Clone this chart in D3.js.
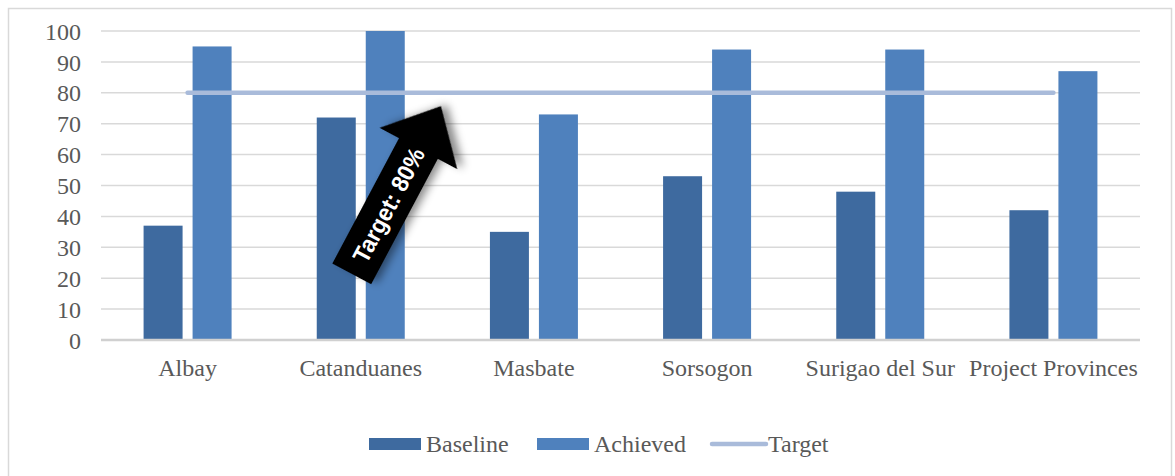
<!DOCTYPE html>
<html>
<head>
<meta charset="utf-8">
<script src="https://cdn.jsdelivr.net/npm/d3@7"></script>
<style>
  html, body { margin: 0; padding: 0; background: #fff; }
  svg { display: block; }
</style>
</head>
<body>
<svg id="chart" width="1175" height="476"></svg>
<script>
// Provincial coverage: baseline vs achieved, against an 80% target
const categories = ["Albay", "Catanduanes", "Masbate", "Sorsogon", "Surigao del Sur", "Project Provinces"];
const baseline = [37, 72, 35, 53, 48, 42];
const achieved = [95, 100, 73, 94, 94, 87];
const target = [80, 80, 80, 80, 80, 80];
const yTicks = [0, 10, 20, 30, 40, 50, 60, 70, 80, 90, 100];
const seriesNames = ["Baseline", "Achieved", "Target"];
const annotationText = "Target: 80%";

const colors = { Baseline: "#3e6a9f", Achieved: "#4f81bd", Target: "#a9bbda" };
const font = "'Liberation Serif', 'Times New Roman', serif";
const textColor = "#595959";
const fontSize = 24;

const svg = d3.select("#chart");

// outer chart frame
svg.append("rect")
  .attr("x", 8.5).attr("y", 8.5)
  .attr("width", 1163).attr("height", 490)
  .attr("fill", "none").attr("stroke", "#d9d9d9").attr("stroke-width", 1.5);

const plot = { left: 101, right: 1140, top: 31, bottom: 340 };

const x = d3.scaleBand().domain(categories).range([plot.left, plot.right]).padding(0);
const y = d3.scaleLinear().domain([0, 100]).range([plot.bottom, plot.top]);

const barW = 39, innerGap = 10;

// gridlines
svg.append("g").selectAll("line")
  .data(yTicks.filter(d => d > 0))
  .join("line")
  .attr("x1", plot.left).attr("x2", plot.right)
  .attr("y1", d => y(d)).attr("y2", d => y(d))
  .attr("stroke", "#d9d9d9").attr("stroke-width", 1.5);

// y axis labels
const yAxis = d3.axisLeft(y).tickValues(yTicks).tickSize(0).tickPadding(0);
const yg = svg.append("g").attr("transform", `translate(81,0)`).call(yAxis);
yg.select(".domain").remove();
yg.attr("font-family", font).attr("font-size", fontSize);
yg.selectAll("text")
  .attr("font-family", font).attr("font-size", fontSize).attr("fill", textColor)
  .attr("dy", "0.34em");

// bars
const rows = categories.map((c, i) => ({ c, b: baseline[i], a: achieved[i], t: target[i] }));
const groups = svg.append("g").selectAll("g").data(rows).join("g")
  .attr("transform", d => `translate(${x(d.c) + x.bandwidth() / 2},0)`);

groups.append("rect")
  .attr("x", -innerGap / 2 - barW).attr("width", barW)
  .attr("y", d => y(d.b)).attr("height", d => y(0) - y(d.b))
  .attr("fill", colors.Baseline);

groups.append("rect")
  .attr("x", innerGap / 2).attr("width", barW)
  .attr("y", d => y(d.a)).attr("height", d => y(0) - y(d.a))
  .attr("fill", colors.Achieved);

// x axis baseline and category labels
svg.append("line")
  .attr("x1", plot.left).attr("x2", plot.right)
  .attr("y1", y(0)).attr("y2", y(0))
  .attr("stroke", "#d0d0d0").attr("stroke-width", 2.5);

const xAxis = d3.axisBottom(x).tickSize(0).tickPadding(0);
const xg = svg.append("g").attr("transform", `translate(0,${y(0) + 36})`).call(xAxis);
xg.select(".domain").remove();
xg.attr("font-family", font).attr("font-size", fontSize);
xg.selectAll("text")
  .attr("font-family", font).attr("font-size", fontSize).attr("fill", textColor)
  .attr("dy", "0");

// target line
const line = d3.line()
  .x(d => x(d.c) + x.bandwidth() / 2)
  .y(d => y(d.t));
svg.append("path")
  .datum(rows)
  .attr("d", line)
  .attr("fill", "none")
  .attr("stroke", colors.Target)
  .attr("stroke-width", 4.5)
  .attr("stroke-linecap", "round");

// arrow annotation pointing up at the target line
const defs = svg.append("defs");
const shadow = defs.append("filter").attr("id", "arrowShadow")
  .attr("x", "-30%").attr("y", "-30%").attr("width", "160%").attr("height", "160%");
shadow.append("feDropShadow")
  .attr("dx", 4).attr("dy", 5).attr("stdDeviation", 4)
  .attr("flood-color", "#000").attr("flood-opacity", 0.45);

const arrowAnchorX = x("Catanduanes") + x.bandwidth() / 2 - 9;   // tail midpoint
const arrowAnchorY = y(21.4);
const shaftLen = 142, shaftHalf = 22, headLen = 48, headHalf = 44;
const arrow = svg.append("g")
  .attr("transform", `translate(${arrowAnchorX},${arrowAnchorY}) rotate(-62)`);
arrow.append("path")
  .attr("d", `M0,${-shaftHalf} L${shaftLen},${-shaftHalf} L${shaftLen},${-headHalf}
              L${shaftLen + headLen},0 L${shaftLen},${headHalf} L${shaftLen},${shaftHalf}
              L0,${shaftHalf} Z`)
  .attr("fill", "#000")
  .attr("filter", "url(#arrowShadow)");
arrow.append("text")
  .attr("x", 78).attr("y", 0)
  .attr("dy", "0.36em")
  .attr("text-anchor", "middle")
  .attr("font-family", "'Liberation Sans Narrow', 'Arial Narrow', 'Liberation Sans', Arial, sans-serif")
  .attr("font-weight", "bold")
  .attr("font-size", 24)
  .attr("textLength", 126)
  .attr("lengthAdjust", "spacingAndGlyphs")
  .attr("fill", "#fff")
  .text(annotationText);

// legend
const legend = svg.append("g").attr("font-family", font).attr("font-size", fontSize).attr("fill", textColor);
const legendItems = [
  { name: seriesNames[0], x: 369, type: "rect" },
  { name: seriesNames[1], x: 537, type: "rect" },
  { name: seriesNames[2], x: 712, type: "line" }
];
const legendY = 444;
legendItems.forEach(item => {
  if (item.type === "rect") {
    legend.append("rect")
      .attr("x", item.x).attr("y", legendY - 6)
      .attr("width", 52).attr("height", 12)
      .attr("fill", colors[item.name]);
    legend.append("text").attr("x", item.x + 57).attr("y", legendY).attr("dy", "0.34em").text(item.name);
  } else {
    legend.append("line")
      .attr("x1", item.x).attr("x2", item.x + 54)
      .attr("y1", legendY).attr("y2", legendY)
      .attr("stroke", colors[item.name]).attr("stroke-width", 4.5).attr("stroke-linecap", "round");
    legend.append("text").attr("x", item.x + 56).attr("y", legendY).attr("dy", "0.34em").text(item.name);
  }
});
</script>
</body>
</html>
